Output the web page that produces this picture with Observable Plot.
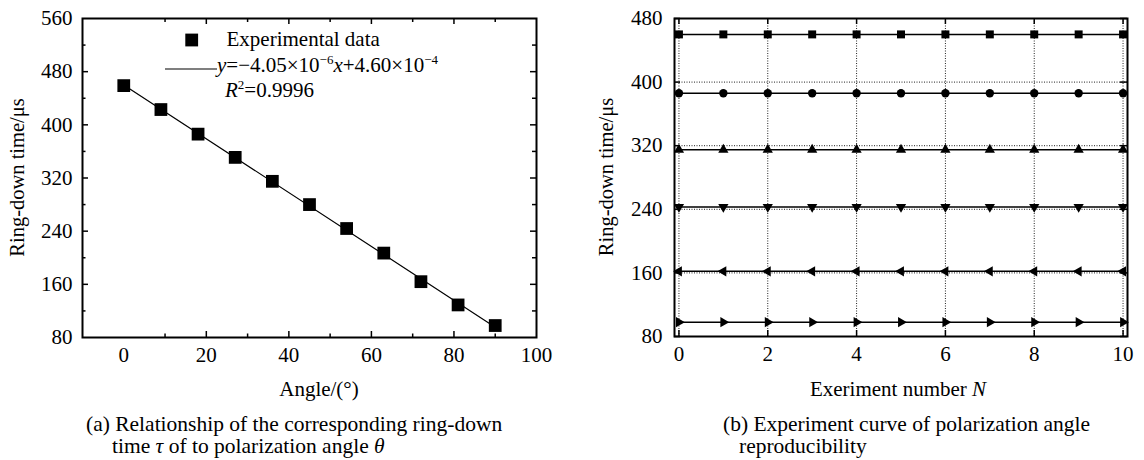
<!DOCTYPE html>
<html><head><meta charset="utf-8">
<script src="https://cdn.jsdelivr.net/npm/d3@7"></script>
<script src="https://cdn.jsdelivr.net/npm/@observablehq/plot@0.6"></script>
<style>
body{margin:0;background:#fff;}
#wrap{position:relative;width:1144px;height:460px;font-family:"Liberation Serif","Times New Roman",serif;color:#000;overflow:hidden;}
.panel{position:absolute;top:0;}
.cap{position:absolute;font-size:21.5px;line-height:22px;white-space:nowrap;}
</style></head><body><div id="wrap"></div>
<script>
// ---------- data: panel (a) ----------
const angles   = [0, 9, 18, 27, 36, 45, 54, 63, 72, 81, 90];
const ringdown = [459, 423, 386, 351, 315, 280, 244, 207, 164, 129, 98];
const fitAngle = [0, 90];
const fitTime  = [460, 95.5];
const angleTicks = [0, 20, 40, 60, 80, 100];
const angleMinor = [10, 30, 50, 70, 90];
const timeTicksA = [80, 160, 240, 320, 400, 480, 560];
const timeMinorA = [120, 200, 280, 360, 440, 520];

// ---------- data: panel (b) ----------
const runs = [0, 1, 2, 3, 4, 5, 6, 7, 8, 9, 10];
const seriesKeys = ["0°", "18°", "36°", "54°", "72°", "90°"];
const s0  = [460, 460, 460, 460, 460, 460, 460, 460, 460, 460, 460];
const s18 = [386, 386, 386, 386, 386, 386, 386, 386, 386, 386, 386];
const s36 = [315, 315, 315, 315, 315, 315, 315, 315, 315, 315, 315];
const s54 = [243, 243, 243, 243, 243, 243, 243, 243, 243, 243, 243];
const s72 = [162, 162, 162, 162, 162, 162, 162, 162, 162, 162, 162];
const s90 = [98, 98, 98, 98, 98, 98, 98, 98, 98, 98, 98];
const seriesValues = [s0, s18, s36, s54, s72, s90];
const runTicks = [0, 2, 4, 6, 8, 10];
const timeTicksB = [80, 160, 240, 320, 400, 480];

const FONT = "'Liberation Serif','Times New Roman',serif";
const sqrt3 = Math.sqrt(3);
function tri(deg) {
  return {draw(ctx, size) {
    const y = -Math.sqrt(size / (sqrt3 * 3));
    const pts = [[0, y * 2], [-sqrt3 * y, -y], [sqrt3 * y, -y]];
    const a = deg * Math.PI / 180, c = Math.cos(a), s = Math.sin(a);
    pts.forEach(([px, py], i) => { const X = px * c - py * s, Y = px * s + py * c; i ? ctx.lineTo(X, Y) : ctx.moveTo(X, Y); });
    ctx.closePath();
  }};
}
const seriesSymbols = ["square", "circle", tri(0), tri(180), tri(-90), tri(90)];
const seriesR = [4.5, 4.2, 3.8, 3.8, 3.8, 3.8];

const wrap = document.getElementById("wrap");

// ---------- panel (a) ----------
{
  const W = 560, H = 400, mL = 82, mR = 24, mT = 18, mB = 63;
  const pH = H - mT - mB, pW = W - mL - mR;
  const ptsA = angles.map((a, i) => ({a, t: ringdown[i]}));
  const fit = fitAngle.map((a, i) => ({a, t: fitTime[i]}));
  const tick = (vals, len, side) => side === "b" || side === "t"
    ? Plot.ruleX(vals, {x: d => d, stroke: "black", strokeWidth: 1.5, [side === "b" ? "insetTop" : "insetBottom"]: pH - len})
    : Plot.ruleY(vals, {y: d => d, stroke: "black", strokeWidth: 1.5, [side === "l" ? "insetRight" : "insetLeft"]: pW - len});
  const svg = Plot.plot({
    width: W, height: H, marginLeft: mL, marginRight: mR, marginTop: mT, marginBottom: mB,
    style: {fontFamily: FONT, fontSize: "21px", background: "white", overflow: "visible", color: "black"},
    x: {domain: [-10, 100]}, y: {domain: [80, 560]},
    marks: [
      Plot.axisX({ticks: angleTicks, tickSize: 0, tickPadding: 10, label: null, tickFormat: d => String(d)}),
      Plot.axisY({ticks: timeTicksA, tickSize: 0, tickPadding: 10, label: null, tickFormat: d => String(d)}),
      tick(angleTicks.slice(1, -1), 6, "b"), tick(angleMinor, 3.5, "b"),
      tick(angleTicks.slice(1, -1), 6, "t"), tick(angleMinor, 4, "t"),
      tick(timeTicksA.slice(1, -1), 6, "l"), tick(timeMinorA, 3.5, "l"),
      tick(timeTicksA.slice(1, -1), 6, "r"), tick(timeMinorA, 4, "r"),
      Plot.line(fit, {x: "a", y: "t", stroke: "black", strokeWidth: 1.2}),
      Plot.dot(ptsA, {x: "a", y: "t", symbol: "square", r: 7.2, fill: "black", stroke: "none"}),
      Plot.frame({stroke: "black", strokeWidth: 2})
    ]
  });
  svg.classList.add("panel"); svg.style.left = "0px";
  wrap.appendChild(svg);
  const s = d3.select(svg);
  s.append("text").attr("x", 319).attr("y", 396).attr("text-anchor", "middle").attr("font-size", 21).text("Angle/(°)");
  s.append("text").attr("transform", "translate(24,177.5) rotate(-90)").attr("text-anchor", "middle").attr("font-size", 20.5).text("Ring-down time/μs");
  // legend
  s.append("rect").attr("x", 185.3).attr("y", 33.6).attr("width", 12.8).attr("height", 12.8).attr("fill", "black");
  s.append("text").attr("x", 226.5).attr("y", 45.5).attr("text-anchor", "start").attr("font-size", 21).text("Experimental data");
  s.append("line").attr("x1", 165).attr("x2", 217).attr("y1", 69).attr("y2", 69).attr("stroke", "black").attr("stroke-width", 1.2);
  const eq = s.append("text").attr("x", 217).attr("y", 71.5).attr("text-anchor", "start").attr("font-size", 21);
  eq.append("tspan").attr("font-style", "italic").text("y");
  eq.append("tspan").text("=−4.05×10");
  eq.append("tspan").attr("font-size", 13).attr("dy", -8).text("−6");
  eq.append("tspan").attr("font-style", "italic").attr("dy", 8).text("x");
  eq.append("tspan").text("+4.60×10");
  eq.append("tspan").attr("font-size", 13).attr("dy", -8).text("−4");
  const r2 = s.append("text").attr("x", 225).attr("y", 97).attr("text-anchor", "start").attr("font-size", 21);
  r2.append("tspan").attr("font-style", "italic").text("R");
  r2.append("tspan").attr("font-size", 13).attr("dy", -8).text("2");
  r2.append("tspan").attr("dy", 8).text("=0.9996");
}

// ---------- panel (b) ----------
{
  const X0 = 580, W = 564, H = 400, mL = 94, mR = 17, mT = 18, mB = 64;
  const pH = H - mT - mB, pW = W - mL - mR;
  const rows = seriesKeys.flatMap((k, j) => runs.map((n, i) => ({k, n, t: seriesValues[j][i]})));
  const tick = (vals, len, side) => side === "b" || side === "t"
    ? Plot.ruleX(vals, {x: d => d, stroke: "black", strokeWidth: 1.5, [side === "b" ? "insetTop" : "insetBottom"]: pH - len})
    : Plot.ruleY(vals, {y: d => d, stroke: "black", strokeWidth: 1.5, [side === "l" ? "insetRight" : "insetLeft"]: pW - len});
  const svg = Plot.plot({
    width: W, height: H, marginLeft: mL, marginRight: mR, marginTop: mT, marginBottom: mB,
    style: {fontFamily: FONT, fontSize: "21px", background: "white", overflow: "visible", color: "black"},
    x: {domain: [-0.1, 10.1]}, y: {domain: [80, 480]},
    marks: [
      Plot.ruleX(runTicks, {x: d => d, stroke: "#222", strokeWidth: 1, strokeDasharray: "1,1.5"}),
      Plot.ruleY(timeTicksB, {y: d => d, stroke: "#222", strokeWidth: 1, strokeDasharray: "1,1.5"}),
      Plot.axisX({ticks: runTicks, tickSize: 0, tickPadding: 10, label: null, tickFormat: d => String(d)}),
      Plot.axisY({ticks: timeTicksB, tickSize: 0, tickPadding: 12, label: null, tickFormat: d => String(d)}),
      tick(runTicks, 6, "b"), tick(runTicks, 6, "t"),
      tick(timeTicksB, 6, "l"), tick(timeTicksB, 7, "r"),
      Plot.line(rows, {x: "n", y: "t", z: "k", stroke: "black", strokeWidth: 1.5}),
      ...seriesKeys.map((k, j) => Plot.dot(rows.filter(d => d.k === k), {x: "n", y: "t", symbol: seriesSymbols[j], r: seriesR[j], fill: "black", stroke: "none"})),
      Plot.frame({stroke: "black", strokeWidth: 2})
    ]
  });
  svg.classList.add("panel"); svg.style.left = X0 + "px";
  wrap.appendChild(svg);
  const s = d3.select(svg);
  const xl = s.append("text").attr("x", 898 - X0).attr("y", 396).attr("text-anchor", "middle").attr("font-size", 21);
  xl.append("tspan").text("Exeriment number ");
  xl.append("tspan").attr("font-style", "italic").text("N");
  s.append("text").attr("transform", `translate(${613 - X0},177) rotate(-90)`).attr("text-anchor", "middle").attr("font-size", 20.5).text("Ring-down time/μs");
}

// ---------- captions ----------
const caps = [
  {x: 86, y: 412.5, html: "(a) Relationship of the corresponding ring-down"},
  {x: 112, y: 434.5, html: "time <i>τ</i> of to polarization angle <i>θ</i>"},
  {x: 723, y: 412.5, html: "(b) Experiment curve of polarization angle"},
  {x: 739, y: 434.5, html: "reproducibility"}
];
caps.forEach(c => {
  const d = document.createElement("div");
  d.className = "cap"; d.style.left = c.x + "px"; d.style.top = c.y + "px"; d.innerHTML = c.html;
  wrap.appendChild(d);
});
</script></body></html>
